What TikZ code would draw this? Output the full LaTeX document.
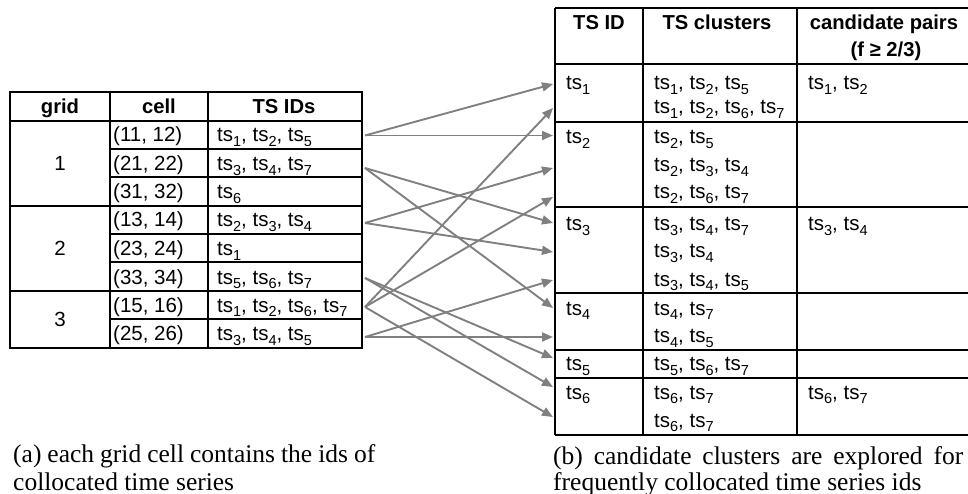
\documentclass[tikz,border=0pt]{standalone}
\usepackage{fontspec}
\setmainfont{Liberation Serif}
\setsansfont{Liberation Sans}
\usetikzlibrary{arrows.meta}
\newcommand{\tsx}[1]{ts\raisebox{-0.22em}{\fontsize{14.5}{14.5}\selectfont #1}}
\definecolor{arrgray}{HTML}{808080}
\tikzset{
 tline/.style={line width=1.9pt, draw=black},
 conn/.style={draw=arrgray, line width=1.9pt, -{Triangle[length=11pt,width=9pt]}},
 tx/.style={inner sep=0pt, anchor=base west, font=\sffamily\fontsize{20.5}{24}\selectfont},
 txc/.style={tx, anchor=base},
 hd/.style={inner sep=0pt, anchor=base, font=\sffamily\bfseries\fontsize{20.2}{24}\selectfont},
 captxt/.style={inner sep=0pt, anchor=base west, font=\rmfamily\fontsize{25.5}{28}\selectfont},
}
\begin{document}
\begin{tikzpicture}[x=1pt,y=-1pt]
\useasboundingbox (0,0) rectangle (968,494);

% ---------- left table ----------
\draw[tline] (10,92) rectangle (362,347.7);
\foreach \y in {120.7,205.7,290.7} \draw[tline] (10,\y) -- (362,\y);
\draw[tline] (110,92) -- (110,347.7);
\draw[tline] (208,92) -- (208,347.7);
\foreach \y in {149,177.3,234,262.3,319} \draw[tline] (110,\y) -- (362,\y);

\node[hd] (hgrid) at (60,114) {grid};
\node[hd] (hcell) at (159,114) {cell};
\node[hd] (hids) at (284,114) {TS IDs};

\node[txc] (g1) at (60,170.5) {1};
\node[txc] (g2) at (60,255.5) {2};
\node[txc] (g3) at (60,326.5) {3};

\node[tx] (c1) at (113,142) {(11, 12)};
\node[tx] (c2) at (113,170.5) {(21, 22)};
\node[tx] (c3) at (113,199) {(31, 32)};
\node[tx] (c4) at (113,227) {(13, 14)};
\node[tx] (c5) at (113,255.5) {(23, 24)};
\node[tx] (c6) at (113,284) {(33, 34)};
\node[tx] (c7) at (113,312) {(15, 16)};
\node[tx] (c8) at (113,340.5) {(25, 26)};

\node[tx] (v1) at (217,142) {\tsx{1}, \tsx{2}, \tsx{5}};
\node[tx] (v2) at (217,170.5) {\tsx{3}, \tsx{4}, \tsx{7}};
\node[tx] (v3) at (217,199) {\tsx{6}};
\node[tx] (v4) at (217,227) {\tsx{2}, \tsx{3}, \tsx{4}};
\node[tx] (v5) at (217,255.5) {\tsx{1}};
\node[tx] (v6) at (217,284) {\tsx{5}, \tsx{6}, \tsx{7}};
\node[tx] (v7) at (217,312) {\tsx{1}, \tsx{2}, \tsx{6}, \tsx{7}};
\node[tx] (v8) at (217,340.5) {\tsx{3}, \tsx{4}, \tsx{5}};

% ---------- right table ----------
\foreach \x in {555,643,797} \draw[tline] (\x,8) -- (\x,435);
\foreach \y in {8,64,122,207,293,350,378,435} \draw[tline] (555,\y) -- (968,\y);

\node[hd] (htsid) at (599,30) {TS ID};
\node[hd] (hclu) at (717,30) {TS clusters};
\node[hd] (hpair) at (884,30) {candidate pairs};
\node[hd] (hf) at (886,57) {(f ≥ 2/3)};

\node[tx] (r1) at (566,89.5) {\tsx{1}};
\node[tx] (r2) at (566,144) {\tsx{2}};
\node[tx] (r3) at (566,230.5) {\tsx{3}};
\node[tx] (r4) at (566,315) {\tsx{4}};
\node[tx] (r5) at (566,370.5) {\tsx{5}};
\node[tx] (r6) at (566,399) {\tsx{6}};

\node[tx] (k1a) at (654,89.5) {\tsx{1}, \tsx{2}, \tsx{5}};
\node[tx] (k1b) at (654,113.5) {\tsx{1}, \tsx{2}, \tsx{6}, \tsx{7}};
\node[tx] (k2a) at (654,144) {\tsx{2}, \tsx{5}};
\node[tx] (k2b) at (654,171.5) {\tsx{2}, \tsx{3}, \tsx{4}};
\node[tx] (k2c) at (654,199) {\tsx{2}, \tsx{6}, \tsx{7}};
\node[tx] (k3a) at (654,230.5) {\tsx{3}, \tsx{4}, \tsx{7}};
\node[tx] (k3b) at (654,258) {\tsx{3}, \tsx{4}};
\node[tx] (k3c) at (654,286) {\tsx{3}, \tsx{4}, \tsx{5}};
\node[tx] (k4a) at (654,315) {\tsx{4}, \tsx{7}};
\node[tx] (k4b) at (654,342.5) {\tsx{4}, \tsx{5}};
\node[tx] (k5a) at (654,370.5) {\tsx{5}, \tsx{6}, \tsx{7}};
\node[tx] (k6a) at (654,399) {\tsx{6}, \tsx{7}};
\node[tx] (k6b) at (654,427) {\tsx{6}, \tsx{7}};

\node[tx] (p1) at (808,89.5) {\tsx{1}, \tsx{2}};
\node[tx] (p3) at (808,230.5) {\tsx{3}, \tsx{4}};
\node[tx] (p6) at (808,399) {\tsx{6}, \tsx{7}};

% ---------- connectors ----------
\coordinate (s1) at (365,135.5);
\coordinate (s2) at (365,168);
\coordinate (s4) at (365,223);
\coordinate (s6) at (365,278);
\coordinate (s7) at (365,307);
\coordinate (s8) at (365,337);

\coordinate (t1a) at (553,84);
\coordinate (t1b) at (553,108);
\coordinate (t2a) at (553,135.5);
\coordinate (t2b) at (553,168);
\coordinate (t2c) at (553,197);
\coordinate (t3a) at (553,223);
\coordinate (t3b) at (553,252);
\coordinate (t3c) at (553,280);
\coordinate (t4a) at (553,308);
\coordinate (t4b) at (553,337);
\coordinate (t5a) at (553,358);
\coordinate (t6a) at (553,387);
\coordinate (t6b) at (553,417);

\draw[conn] (s1) -- (t1a);
\draw[conn] (s1) -- (t2a);
\draw[conn] (s2) -- (t3a);
\draw[conn] (s2) -- (t4a);
\draw[conn] (s4) -- (t2b);
\draw[conn] (s4) -- (t3b);
\draw[conn] (s6) -- (t5a);
\draw[conn] (s6) -- (t6a);
\draw[conn] (s7) -- (t1b);
\draw[conn] (s7) -- (t2c);
\draw[conn] (s7) -- (t6b);
\draw[conn] (s8) -- (t3c);
\draw[conn] (s8) -- (t4b);

% ---------- captions ----------
\node[captxt] (capa1) at (13,462) {\makebox[362pt][s]{(a) each grid cell contains the ids of}};
\node[captxt] (capa2) at (13,490) {collocated time series};
\node[captxt] (capb1) at (553,464) {\makebox[410pt][s]{(b) candidate clusters are explored for}};
\node[captxt] (capb2) at (553,490) {frequently collocated time series ids};
\end{tikzpicture}
\end{document}
